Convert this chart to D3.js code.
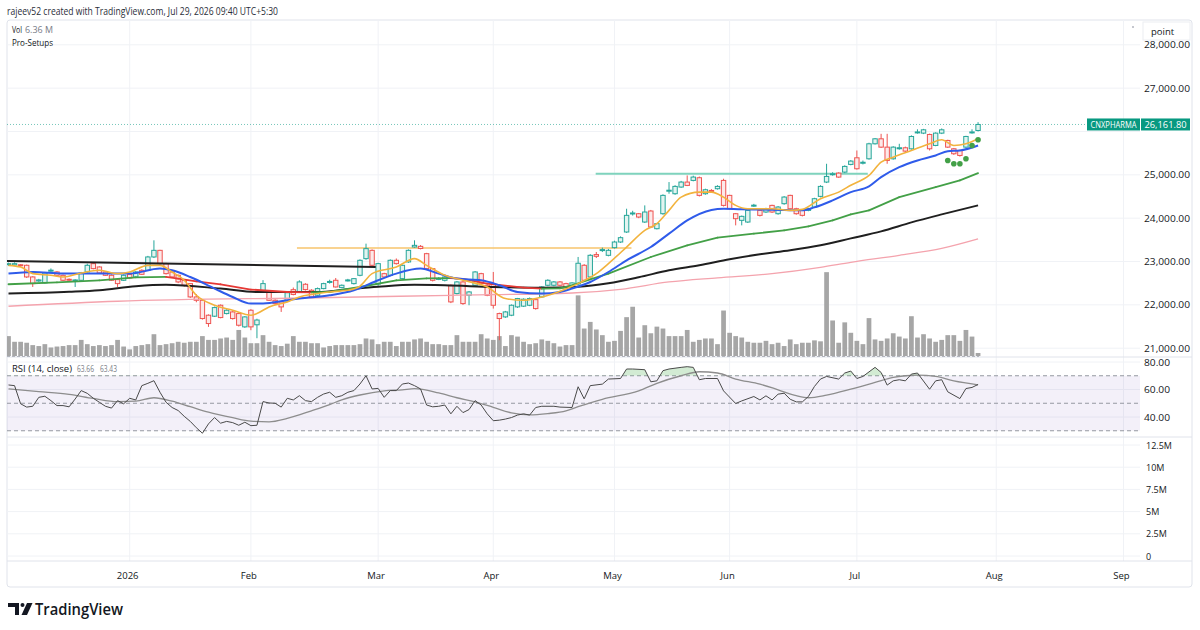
<!DOCTYPE html>
<html><head><meta charset="utf-8">
<script src="https://cdn.jsdelivr.net/npm/d3@7"></script>
<style>body{margin:0;background:#fff;}svg{display:block;font-family:"Open Sans","Noto Sans",sans-serif;}</style>
</head><body><div id="chart"></div>
<script>
// ---------- DATA ----------
const holidays = ["2025-12-25","2026-01-15","2026-01-26","2026-03-03","2026-03-26","2026-03-31","2026-04-03","2026-04-14","2026-05-01","2026-05-28","2026-06-26"];
const specialSessions = ["2026-02-01"];
const firstDay = "2025-12-03", lastGridDay = "2026-09-30";

const opens = [22930,22920,22925,22913,22644,22550,22506,22790,22759,22682,22590,22570,22567,22759,22951,22874,22759,22682,22582,22567,22700,22644,22797,22797,23105,23258,22951,22759,22682,22567,22490,22183,22106,21761,21738,21991,21799,21837,21799,21492,21876,21540,22298,22298,22106,22068,22090,22350,22298,22475,22337,22221,22375,22520,22567,22398,22560,22490,22682,23066,23258,22480,22720,22682,23028,22605,22990,23335,23350,23181,22836,22590,22567,22452,22260,22529,22221,22452,22720,22452,22490,21799,21722,21761,21953,21970,21991,22120,22183,22452,22452,22529,22490,22430,22480,22913,22644,23160,23260,23143,23320,23450,23681,24100,24103,23911,24165,23757,24103,24630,24564,24718,24833,24871,24933,24564,24640,24679,24871,24526,24103,23950,23911,24280,24180,24142,24295,24103,24334,24526,24218,24180,24180,24257,24503,24833,25010,25040,25063,25240,25393,25270,25370,25716,25831,25639,25370,25610,25624,25600,25980,25962,25931,25678,25962,25793,25601,25562,25639,25980,26023];
const highs = [22975,22980,22940,22930,22660,22600,22760,22840,22780,22700,22610,22590,22760,22950,22970,22890,22780,22700,22600,22700,22720,22780,22820,23130,23489,23270,22970,22780,22700,22580,22500,22250,22120,21780,21960,22010,21900,21860,21820,21740,21900,21680,22570,22320,22130,22080,22320,22400,22567,22500,22360,22400,22510,22580,22620,22470,22600,22620,23050,23412,23280,22970,22740,23050,23070,22930,23280,23489,23380,23200,22850,22640,22660,22470,22550,22550,22320,22780,22740,22470,22759,21820,21860,22010,22160,22150,22170,22140,22430,22590,22550,22550,22510,22520,23105,22940,23170,23220,23320,23290,23480,23580,24218,24170,24120,24295,24190,23890,24550,24833,24760,24860,24986,24980,24960,24680,24670,24760,24910,24540,24120,24060,24200,24330,24200,24240,24310,24280,24510,24540,24240,24200,24240,24470,24760,25255,25060,25060,25220,25340,25562,25330,25740,25850,25946,25946,25660,25716,25650,25910,26050,26060,25950,25980,26070,25810,25620,25580,25900,26050,26215];
const lows = [22900,22900,22880,22620,22413,22530,22490,22760,22670,22550,22550,22413,22550,22740,22820,22720,22670,22550,22413,22550,22600,22630,22690,22780,23080,22930,22700,22620,22500,22420,22160,22060,21660,21492,21720,21690,21780,21660,21500,21470,21415,21230,22280,22090,22000,21837,22070,22220,22280,22330,22160,22200,22360,22490,22400,22380,22540,22470,22660,23040,22890,22440,22620,22660,22930,22590,22970,23320,23280,22820,22540,22570,22540,22040,22240,22000,21991,22430,22470,22200,21914,21185,21700,21740,21930,21950,21970,21890,22160,22430,22430,22430,22400,22410,22450,22540,22620,23080,23220,23120,23300,23430,23660,24060,24000,23890,23770,23740,24080,24564,24540,24700,24740,24850,24500,24540,24600,24660,24270,24200,23834,23834,23890,24260,24040,24120,24120,24080,24310,24200,24080,24040,24160,24240,24480,24810,24980,24930,25040,25220,25120,25240,25350,25700,25620,25255,25350,25580,25520,25580,25950,25940,25562,25660,25940,25620,25460,25420,25620,25950,26000];
const closes = [22950,22950,22915,22644,22490,22575,22736,22800,22682,22567,22575,22575,22736,22913,22836,22736,22682,22567,22490,22682,22620,22759,22705,23105,23258,22951,22720,22644,22529,22452,22183,22106,21684,21569,21937,21707,21876,21684,21530,21722,21492,21650,22490,22106,22029,21953,22280,22240,22529,22352,22183,22375,22490,22540,22413,22452,22575,22605,23028,23297,22913,22951,22644,23028,22951,22913,23258,23373,23300,22836,22567,22610,22644,22068,22529,22029,22298,22759,22490,22221,21991,21684,21837,21991,22145,22130,22145,21914,22413,22567,22529,22452,22413,22506,22960,22567,23143,23120,23275,23258,23450,23550,24065,24120,24026,24142,23796,23873,24526,24645,24733,24833,24756,24948,24526,24656,24620,24733,24295,24218,23988,24042,24180,24300,24065,24218,24142,24257,24487,24218,24103,24065,24218,24449,24733,24963,25025,24948,25194,25317,25140,25290,25716,25831,25639,25332,25639,25625,25547,25885,25990,26039,25601,25962,26039,25639,25486,25447,25885,25990,26161.8];
const volumes = [42,30,30,28,23,21,25,18,20,21,23,23,34,25,21,23,21,23,34,20,14,21,23,25,46,23,25,27,30,28,30,30,42,34,34,37,39,34,55,39,27,27,44,30,23,21,26,42,30,30,27,27,18,21,23,23,23,23,25,37,35,25,30,30,21,30,30,35,37,30,25,25,23,23,44,30,30,30,46,37,34,42,21,44,41,30,25,27,35,32,27,20,23,23,128,58,72,56,44,30,32,53,82,104,39,65,48,62,58,42,42,42,55,30,34,37,37,25,96,49,42,39,30,28,28,32,25,28,21,35,25,28,28,33,31,177,75,28,71,49,32,25,80,35,32,37,48,41,37,84,39,46,37,30,34,44,44,32,55,41,6.36];

// moving averages: [bar index, value]
const ema10 = [[0,22912],[2,22873],[4,22721],[7,22682],[9,22643],[12,22735],[15,22797],[18,22721],[20,22758],[23,22912],[25,22912],[27,22758],[29,22567],[31,22221],[34,21991],[37,21876],[40,21760],[41,21800],[43,21952],[46,22067],[48,22182],[53,22297],[56,22336],[58,22430],[60,22720],[64,22873],[67,23067],[69,22912],[72,22682],[75,22567],[79,22412],[82,22145],[85,22106],[87,22145],[90,22260],[93,22429],[95,22560],[97,22721],[99,22952],[102,23334],[105,23719],[107,23873],[109,24180],[111,24486],[114,24601],[116,24601],[118,24486],[120,24295],[122,24219],[126,24219],[129,24180],[131,24203],[134,24449],[137,24601],[139,24760],[142,24986],[144,25293],[146,25408],[149,25562],[152,25717],[154,25809],[156,25677],[158,25717],[160,25832]];
const ema20 = [[0,22721],[4,22758],[9,22721],[15,22721],[20,22721],[25,22836],[27,22797],[30,22643],[34,22376],[37,22182],[40,22030],[42,22030],[46,22106],[48,22145],[53,22221],[57,22336],[61,22567],[64,22721],[68,22836],[71,22721],[74,22606],[78,22567],[81,22452],[84,22297],[88,22260],[91,22297],[93,22376],[96,22528],[99,22758],[102,23028],[106,23334],[109,23643],[112,23949],[116,24190],[118,24219],[121,24203],[126,24196],[131,24180],[133,24249],[136,24410],[139,24601],[142,24733],[144,24947],[147,25177],[150,25332],[153,25447],[155,25546],[157,25562],[160,25677]];
const ema50 = [[0,22475],[8,22521],[15,22567],[21,22636],[26,22647],[28,22606],[31,22544],[35,22475],[40,22353],[46,22297],[50,22290],[53,22300],[58,22412],[64,22567],[69,22610],[73,22615],[75,22600],[79,22491],[85,22399],[88,22376],[91,22382],[93,22452],[96,22590],[99,22721],[106,23104],[112,23373],[117,23551],[123,23643],[128,23719],[132,23811],[136,23949],[139,24087],[142,24180],[147,24486],[153,24717],[157,24871],[160,25039]];
const ema100 = [[0,22260],[10,22300],[15,22336],[21,22430],[26,22463],[35,22376],[41,22297],[51,22297],[56,22359],[61,22417],[67,22463],[72,22452],[80,22412],[88,22394],[94,22417],[99,22498],[104,22636],[109,22797],[114,22912],[119,23051],[124,23166],[129,23258],[134,23373],[139,23534],[144,23696],[149,23903],[154,24087],[160,24295]];
const ema200 = [[0,21968],[18,22083],[51,22164],[73,22221],[93,22274],[101,22359],[109,22528],[117,22624],[126,22721],[134,22866],[139,22982],[147,23143],[154,23304],[160,23523]];
const trendLine = [[-0.5,23011],[60.6,22873]];
const levelYellow = [[47.6,23310],[102.8,23310]];
const levelTeal = [[96.9,25025],[141.8,25025]];
const setupDots = [[155,25332],[156,25256],[157,25256],[158,25371],[159,25677],[160,25809]];

const rsi = [[0,63.3],[1,62.8],[2,49.6],[3,47.2],[4,47.8],[5,54.3],[6,55.1],[7,51.9],[8,48.3],[9,48.3],[10,47.4],[11,53.1],[12,59.2],[13,57.2],[14,53.6],[15,50.7],[16,47.8],[17,46.5],[18,51.9],[19,49.6],[20,53.6],[21,52.4],[22,62.8],[23,64.5],[24,66.4],[25,58.0],[26,50.7],[27,46.9],[28,44.7],[29,40.5],[30,36.8],[31,32.2],[32,28.2],[33,35.0],[34,39.6],[35,35.5],[36,36.8],[37,35.9],[38,34.0],[39,36.2],[40,33.7],[41,34.0],[42,51.2],[43,50.2],[44,50.0],[45,47.2],[46,53.6],[47,52.4],[48,55.5],[49,51.9],[50,51.2],[51,54.3],[52,56.7],[53,58.0],[54,54.3],[55,55.5],[56,58.0],[57,59.2],[58,64.0],[59,70.0],[60,60.4],[61,60.8],[62,54.3],[63,59.2],[64,59.2],[65,64.0],[66,64.7],[67,62.8],[68,60.4],[69,48.7],[70,47.4],[71,47.8],[72,48.7],[73,42.3],[74,47.8],[75,43.2],[76,45.4],[77,51.9],[78,48.7],[79,42.3],[80,37.3],[81,37.7],[82,38.5],[83,39.6],[84,41.4],[85,42.3],[86,41.4],[87,46.9],[88,47.8],[90,47.8],[91,47.2],[93,46.9],[94,62.0],[95,53.2],[96,62.8],[98,63.9],[99,67.6],[101,68.0],[102,74.9],[103,74.9],[105,74.4],[106,65.6],[107,66.3],[108,73.7],[109,74.9],[111,76.1],[112,76.6],[113,76.1],[114,67.1],[115,68.0],[117,68.0],[118,59.0],[120,49.8],[121,51.7],[123,54.9],[124,52.4],[125,55.4],[126,52.4],[127,56.6],[128,57.3],[129,52.9],[130,51.0],[131,51.0],[132,54.9],[133,62.2],[134,67.6],[135,69.5],[137,67.6],[138,72.0],[139,73.4],[140,68.0],[141,69.5],[143,76.1],[144,72.4],[145,63.2],[146,66.3],[147,67.1],[148,66.3],[149,71.2],[150,72.0],[152,60.2],[153,66.3],[154,67.1],[155,58.3],[157,53.4],[158,60.7],[159,61.5],[160,63.66]];
const rsiMA = [[0,60.4],[5,58.5],[10,56.5],[14,53.5],[18,51.2],[21,51.5],[24,54.0],[27,51.5],[30,47.5],[33,43.5],[37,39.5],[40,37.0],[43,36.5],[46,39.0],[50,44.5],[53,49.0],[55,52.5],[58,56.0],[62,59.0],[65,59.8],[67,60.6],[71,57.5],[74,54.0],[77,51.0],[80,47.0],[83,43.0],[86,41.5],[89,42.5],[92,44.5],[94,47.5],[98,52.9],[104,59.0],[107,64.5],[111,70.0],[114,72.9],[117,72.0],[120,67.6],[124,63.9],[127,59.8],[130,55.5],[132,54.0],[135,55.9],[139,60.2],[143,65.1],[146,68.8],[148,70.0],[150,70.5],[153,69.5],[156,66.3],[160,63.43]];

const priceTicks = [21000,22000,23000,24000,25000,26000,27000,28000];
const rsiTicks = [40,60,80];
const rsiLevels = [70,50,30];
const volPaneTicks = [0,2.5,5,7.5,10,12.5];
const headerText = "rajeev52 created with TradingView.com, Jul 29, 2026 09:40 UTC+5:30";
const symbolName = "CNXPHARMA";
const lastVolText = "6.36 M";
const rsiLegend = ["RSI (14, close)", "63.66", "63.43"];

// ---------- TRADING CALENDAR ----------
const parse = d3.utcParse("%Y-%m-%d"), fmt = d3.utcFormat("%Y-%m-%d");
const tradingDays = d3.utcDay.range(parse(firstDay), parse(lastGridDay)).filter(d => {
  const s = fmt(d), wd = d.getUTCDay();
  return specialSessions.includes(s) || (wd !== 0 && wd !== 6 && !holidays.includes(s));
});
const monthTicks = [];
tradingDays.forEach((d, i) => {
  if (i > 0 && d.getUTCMonth() !== tradingDays[i-1].getUTCMonth())
    monthTicks.push({i, label: d.getUTCMonth() === 0 ? String(d.getUTCFullYear()) : d3.utcFormat("%b")(d)});
});

// ---------- LAYOUT ----------
const W = 1200, H = 630;
const plotL = 7, plotR = 1140, axisX = 1144;
const mainTop = 20, mainBot = 357, rsiBot = 437, volBot = 561;
const x = d3.scaleLinear().domain([0, 184]).range([8.5, 1123.5]);
const y = d3.scaleLinear().domain([21000, 28000]).range([348.2, 44.8]);
const yVol = d3.scaleLinear().domain([0, 190]).range([356, 266]);
const yR = d3.scaleLinear().domain([40, 80]).range([417, 362]);
const yVP = d3.scaleLinear().domain([0, 12.5]).range([556, 445]);
const step = x(1) - x(0);

const svg = d3.select("#chart").append("svg").attr("width", W).attr("height", H);
svg.append("rect").attr("width", W).attr("height", H).attr("fill", "#fff");
const defs = svg.append("defs");
defs.append("clipPath").attr("id", "cMain").append("rect").attr("x", plotL).attr("y", mainTop).attr("width", plotR - plotL).attr("height", mainBot - mainTop);
defs.append("clipPath").attr("id", "cOB").append("rect").attr("x", plotL).attr("y", mainBot).attr("width", plotR - plotL).attr("height", yR(70) - mainBot);

const ink = "#131722", grey = "#787b86", gridC = "#f0f2f6";

// frame
svg.append("rect").attr("x", 7).attr("y", 20).attr("width", 1185).attr("height", 567).attr("rx", 3)
  .attr("fill", "none").attr("stroke", "#e0e3eb");

// grid
const grid = svg.append("g");
monthTicks.filter(t => x(t.i) < plotR).forEach(t => {
  grid.append("line").attr("x1", x(t.i)).attr("x2", x(t.i)).attr("y1", mainTop).attr("y2", volBot).attr("stroke", gridC);
});
priceTicks.forEach(p => grid.append("line").attr("x1", plotL).attr("x2", plotR).attr("y1", y(p)).attr("y2", y(p)).attr("stroke", gridC));
rsiTicks.forEach(v => grid.append("line").attr("x1", plotL).attr("x2", plotR).attr("y1", yR(v)).attr("y2", yR(v)).attr("stroke", gridC));
volPaneTicks.forEach(v => grid.append("line").attr("x1", plotL).attr("x2", plotR).attr("y1", yVP(v)).attr("y2", yVP(v)).attr("stroke", gridC));
[mainBot, rsiBot, volBot].forEach(yy => svg.append("line").attr("x1", 7).attr("x2", 1192).attr("y1", yy).attr("y2", yy).attr("stroke", "#e0e3eb"));

const main = svg.append("g").attr("clip-path", "url(#cMain)");

// volume
main.append("g").selectAll("rect").data(volumes).join("rect")
  .attr("x", (d, i) => x(i) - step * 0.39).attr("width", step * 0.78)
  .attr("y", d => yVol(d)).attr("height", d => yVol(0) - yVol(d)).attr("fill", "#a6a6a6");
svg.append("line").attr("x1", plotL).attr("x2", x(160) + 1).attr("y1", 356.5).attr("y2", 356.5)
  .attr("stroke", "#b2b5be").attr("stroke-dasharray", "3,2");

// last price dotted line
const lastY = y(closes[closes.length - 1]);
main.append("line").attr("x1", plotL).attr("x2", plotR).attr("y1", lastY).attr("y2", lastY)
  .attr("stroke", "#089981").attr("stroke-opacity", 0.55).attr("stroke-dasharray", "1,2");

// horizontal levels
const straight = d3.line().x(d => x(d[0])).y(d => y(d[1]));
main.append("path").attr("d", straight(levelYellow)).attr("stroke", "#f7c46c").attr("stroke-width", 1.5).attr("fill", "none");
main.append("path").attr("d", straight(levelTeal)).attr("stroke", "#7fd3bd").attr("stroke-width", 2).attr("fill", "none");

// candles
const cg = main.append("g");
closes.forEach((c, i) => {
  const o = opens[i], up = c >= o;
  const col = up ? "#26a69a" : "#ef5350";
  const cx = x(i);
  cg.append("line").attr("x1", cx).attr("x2", cx).attr("y1", y(highs[i])).attr("y2", y(lows[i])).attr("stroke", col);
  const top = y(Math.max(o, c)), bot = y(Math.min(o, c));
  cg.append("rect").attr("x", cx - 2.2).attr("width", 4.4).attr("y", top).attr("height", Math.max(1, bot - top))
    .attr("fill", up ? "#e3f4f0" : "#fce9e9").attr("stroke", col).attr("stroke-width", 1);
});

// moving averages
const smooth = d3.line().x(d => x(d[0])).y(d => y(d[1])).curve(d3.curveMonotoneX);
const drawMA = (data, color, w) => main.append("path").attr("d", smooth(data)).attr("fill", "none").attr("stroke", color).attr("stroke-width", w);
drawMA(ema200, "#f4a3ad", 1.3);
drawMA(ema100, "#1f1f1f", 2);
for (let k = 1; k < ema50.length; k++) {
  const a = ema50[k - 1], b = ema50[k];
  main.append("path").attr("d", straight([a, b])).attr("fill", "none")
    .attr("stroke", b[1] >= a[1] ? "#43a047" : "#e53935").attr("stroke-width", 1.8).attr("stroke-linecap", "round");
}
drawMA(ema20, "#2f5bea", 2);
drawMA(ema10, "#f2b33d", 1.6);
main.append("path").attr("d", straight(trendLine)).attr("stroke", "#1f1f1f").attr("stroke-width", 2).attr("fill", "none");

// pro-setup dots
main.append("g").selectAll("circle").data(setupDots).join("circle")
  .attr("cx", d => x(d[0])).attr("cy", d => y(d[1])).attr("r", 2.8).attr("fill", "#43a047");

// ---------- RSI ----------
const rsiG = svg.append("g");
rsiG.append("rect").attr("x", plotL).attr("width", plotR - plotL).attr("y", yR(70)).attr("height", yR(30) - yR(70))
  .attr("fill", "rgba(126,87,194,0.09)");
rsiLevels.forEach(v => rsiG.append("line").attr("x1", plotL).attr("x2", plotR).attr("y1", yR(v)).attr("y2", yR(v))
  .attr("stroke", "#9598a1").attr("stroke-dasharray", "4,3"));
const rsiLine = d3.line().x(d => x(d[0])).y(d => yR(d[1]));
const obArea = d3.area().x(d => x(d[0])).y0(yR(70)).y1(d => yR(d[1]));
rsiG.append("path").attr("d", obArea(rsi)).attr("fill", "rgba(76,175,80,0.25)").attr("clip-path", "url(#cOB)");
rsiG.append("path").attr("d", d3.line().x(d => x(d[0])).y(d => yR(d[1])).curve(d3.curveMonotoneX)(rsiMA))
  .attr("fill", "none").attr("stroke", "#8d8d8d").attr("stroke-width", 1.3);
rsiG.append("path").attr("d", rsiLine(rsi)).attr("fill", "none").attr("stroke", "#4a4a4a").attr("stroke-width", 1);

// ---------- TEXT ----------
const T = (tx, ty, s, o = {}) => {
  const t = svg.append("text").attr("x", tx).attr("y", ty).text(s)
    .attr("font-size", o.size || 10).attr("fill", o.fill || ink);
  if (o.len) t.attr("textLength", o.len).attr("lengthAdjust", "spacingAndGlyphs");
  if (o.anchor) t.attr("text-anchor", o.anchor);
  if (o.weight) t.attr("font-weight", o.weight);
  return t;
};
T(7, 14.5, headerText, {size: 10.5, len: 271, fill: "#2a2e39"});
T(12, 33, "Vol", {size: 9.5, len: 10});
T(25, 33, lastVolText, {size: 9.5, len: 28, fill: grey});
T(12, 46, "Pro-Setups", {size: 9.5, len: 41});
T(12, 372, rsiLegend[0], {size: 9.5, len: 60});
T(77, 372, rsiLegend[1], {size: 9, len: 17, fill: grey});
T(100, 372, rsiLegend[2], {size: 9, len: 17, fill: grey});

// price axis (the tick hidden by the last-price label is skipped)
const fmtP = d3.format(",.2f");
priceTicks.filter(p => Math.abs(y(p) - lastY) > 9).forEach(p => T(axisX, y(p) + 3.5, fmtP(p), {size: 9.5, len: 46}));
rsiTicks.forEach(v => T(axisX, yR(v) + 3.5, fmtP(v), {size: 9.5, len: 26}));
volPaneTicks.forEach(v => T(axisX + 2, yVP(v) + 3.5, v === 0 ? "0" : v + "M", {size: 9}));
monthTicks.filter(t => x(t.i) < plotR + 5).forEach(t => T(x(t.i) - 2, 579, t.label, {size: 9.5, anchor: "middle"}));

// "point" box
svg.append("rect").attr("x", 1143).attr("y", 22).attr("width", 47).attr("height", 18).attr("fill", "#fff").attr("stroke", "#eceef2");
T(1151, 35, "point", {size: 9.5});
svg.append("circle").attr("cx", 1133).attr("cy", 27).attr("r", 1).attr("fill", "#b2b5be");

// last price label
svg.append("rect").attr("x", 1087).attr("y", lastY - 6).attr("width", 53).attr("height", 12).attr("fill", "#089981");
svg.append("rect").attr("x", 1141).attr("y", lastY - 6).attr("width", 49).attr("height", 12).attr("fill", "#089981");
T(1113.5, lastY + 3.5, symbolName, {size: 8.5, fill: "#fff", anchor: "middle", len: 46});
T(1165.5, lastY + 3.5, fmtP(closes[closes.length - 1]), {size: 9.5, fill: "#fff", anchor: "middle", len: 42});

// TradingView logo
svg.append("path").attr("d", "M8,603 H19 V615 H15 V607 H8 Z").attr("fill", ink);
svg.append("circle").attr("cx", 22.5).attr("cy", 605).attr("r", 2).attr("fill", ink);
svg.append("path").attr("d", "M27,603 H32.5 L27,615 H21.5 Z").attr("fill", ink);
T(35, 614.5, "TradingView", {size: 15.5, weight: 600, len: 88});
</script></body></html>
